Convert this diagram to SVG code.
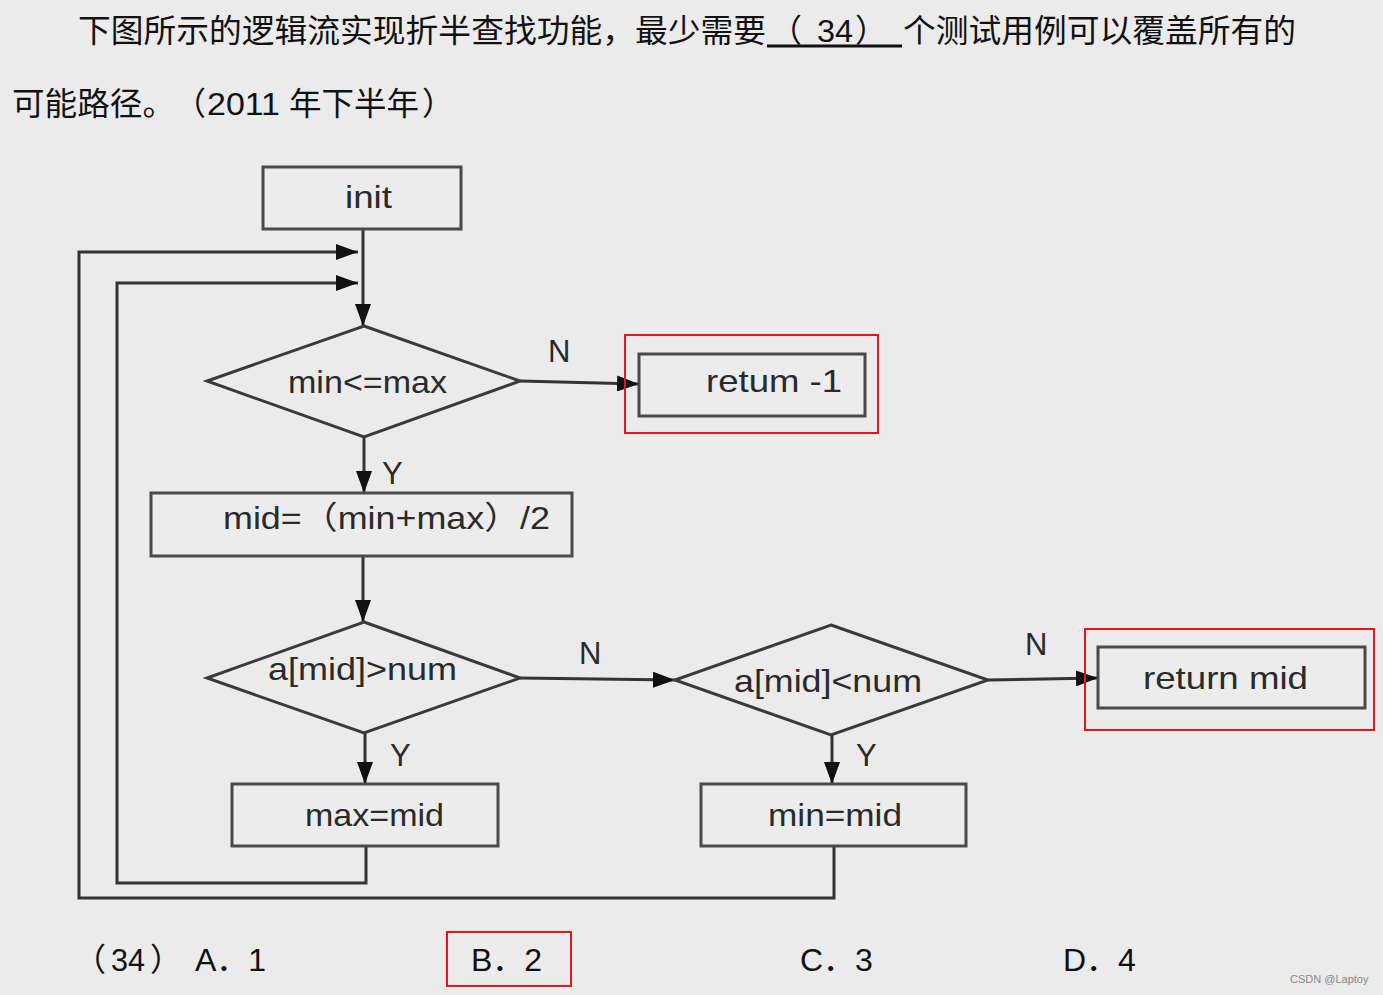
<svg xmlns="http://www.w3.org/2000/svg" width="1383" height="995" viewBox="0 0 1383 995">
<defs>
<marker id="ah" viewBox="0 0 22 16" refX="22" refY="8" markerWidth="22" markerHeight="16" markerUnits="userSpaceOnUse" orient="auto">
<path d="M0,0 L22,8 L0,16 Z" fill="#111"/>
</marker>
</defs>
<style>
.bg{fill:#ebebeb}
.box{fill:#ececec;stroke:#4a4a4a;stroke-width:3}
.dia{fill:none;stroke:#3a3a3a;stroke-width:3}
.ln{fill:none;stroke:#333;stroke-width:3}
.red{fill:none;stroke:#e8141c;stroke-width:2}
.t{font-family:"Liberation Sans","Noto Sans CJK SC",sans-serif;font-size:32px;fill:#2a2a2a}
.lb{font-family:"Liberation Sans","Noto Sans",sans-serif;font-size:31px;fill:#2a2a2a}
.q{font-family:"Liberation Sans","Noto Sans CJK SC",sans-serif;font-size:32px;fill:#111}
</style>
<rect class="bg" x="0" y="0" width="1383" height="995"/>

<g id="question">
<text class="q" x="78" y="42" textLength="688" lengthAdjust="spacingAndGlyphs">下图所示的逻辑流实现折半查找功能，最少需要</text>
<text class="q" x="770" y="42">（</text>
<text class="q" x="817" y="42" textLength="36" lengthAdjust="spacingAndGlyphs">34</text>
<text class="q" x="855" y="42">）</text>
<line x1="767" y1="46" x2="902" y2="46" stroke="#111" stroke-width="3"/>
<text class="q" x="903" y="42" textLength="393" lengthAdjust="spacingAndGlyphs">个测试用例可以覆盖所有的</text>
<text class="q" x="12" y="115" textLength="163" lengthAdjust="spacingAndGlyphs">可能路径。</text>
<text class="q" x="174" y="115">（</text>
<text class="q" x="207" y="115" textLength="73" lengthAdjust="spacingAndGlyphs">2011</text>
<text class="q" x="289" y="115" textLength="130" lengthAdjust="spacingAndGlyphs">年下半年</text>
<text class="q" x="422" y="115">）</text>
</g>

<g id="connectors">
<line class="ln" x1="363" y1="229" x2="363" y2="326" marker-end="url(#ah)"/>
<polyline class="ln" points="834,846 834,898 79,898 79,252 358,252" marker-end="url(#ah)"/>
<polyline class="ln" points="366,846 366,883 117,883 117,283 358,283" marker-end="url(#ah)"/>
<line class="ln" x1="520" y1="381" x2="639" y2="384" marker-end="url(#ah)"/>
<line class="ln" x1="364" y1="437" x2="364" y2="493" marker-end="url(#ah)"/>
<line class="ln" x1="363" y1="556" x2="363" y2="622" marker-end="url(#ah)"/>
<line class="ln" x1="520" y1="678" x2="675" y2="680" marker-end="url(#ah)"/>
<line class="ln" x1="988" y1="680" x2="1098" y2="678" marker-end="url(#ah)"/>
<line class="ln" x1="365" y1="733" x2="365" y2="784" marker-end="url(#ah)"/>
<line class="ln" x1="832" y1="735" x2="832" y2="784" marker-end="url(#ah)"/>
<text class="lb" x="548" y="362">N</text>
<text class="lb" x="382" y="484">Y</text>
<text class="lb" x="579" y="664">N</text>
<text class="lb" x="390" y="766">Y</text>
<text class="lb" x="1025" y="655">N</text>
<text class="lb" x="856" y="766">Y</text>
</g>

<g id="init">
<rect class="box" x="263" y="167" width="198" height="62"/>
<text class="t" x="345" y="208" textLength="47" lengthAdjust="spacingAndGlyphs">init</text>
</g>
<g id="cond-minmax">
<polygon class="dia" points="364,326 520,381 364,437 207,381"/>
<text class="t" x="288" y="393" textLength="159" lengthAdjust="spacingAndGlyphs">min&lt;=max</text>
</g>
<g id="return-neg1">
<rect class="box" x="639" y="354" width="226" height="62"/>
<text class="t" x="706" y="392" textLength="136" lengthAdjust="spacingAndGlyphs">retum -1</text>
<rect class="red" x="625" y="335" width="253" height="98"/>
</g>
<g id="mid-calc">
<rect class="box" x="151" y="493" width="421" height="63"/>
<text class="t" x="223" y="529" textLength="327" lengthAdjust="spacingAndGlyphs">mid=（min+max）/2</text>
</g>
<g id="cond-gt">
<polygon class="dia" points="364,622 520,678 364,733 207,678"/>
<text class="t" x="268" y="680" textLength="189" lengthAdjust="spacingAndGlyphs">a[mid]&gt;num</text>
</g>
<g id="cond-lt">
<polygon class="dia" points="831,625 988,680 831,735 675,680"/>
<text class="t" x="734" y="692" textLength="188" lengthAdjust="spacingAndGlyphs">a[mid]&lt;num</text>
</g>
<g id="return-mid">
<rect class="box" x="1098" y="647" width="267" height="61"/>
<text class="t" x="1143" y="689" textLength="165" lengthAdjust="spacingAndGlyphs">return mid</text>
<rect class="red" x="1085" y="629" width="289" height="101"/>
</g>
<g id="max-mid">
<rect class="box" x="232" y="784" width="266" height="62"/>
<text class="t" x="305" y="826" textLength="139" lengthAdjust="spacingAndGlyphs">max=mid</text>
</g>
<g id="min-mid">
<rect class="box" x="701" y="784" width="265" height="62"/>
<text class="t" x="768" y="826" textLength="134" lengthAdjust="spacingAndGlyphs">min=mid</text>
</g>

<g id="options">
<text class="q" x="74" y="971">（</text>
<text class="q" x="111" y="971" textLength="34" lengthAdjust="spacingAndGlyphs">34</text>
<text class="q" x="150" y="971">）</text>
<text class="q" x="195" y="971">A．1</text>
<text class="q" x="471" y="971">B．2</text>
<rect class="red" x="447" y="932" width="124" height="54"/>
<text class="q" x="800" y="971">C．3</text>
<text class="q" x="1063" y="971">D．4</text>
<text x="1290" y="983" font-family="Liberation Sans, sans-serif" font-size="11" fill="#888">CSDN @Laptoy</text>
</g>
</svg>
